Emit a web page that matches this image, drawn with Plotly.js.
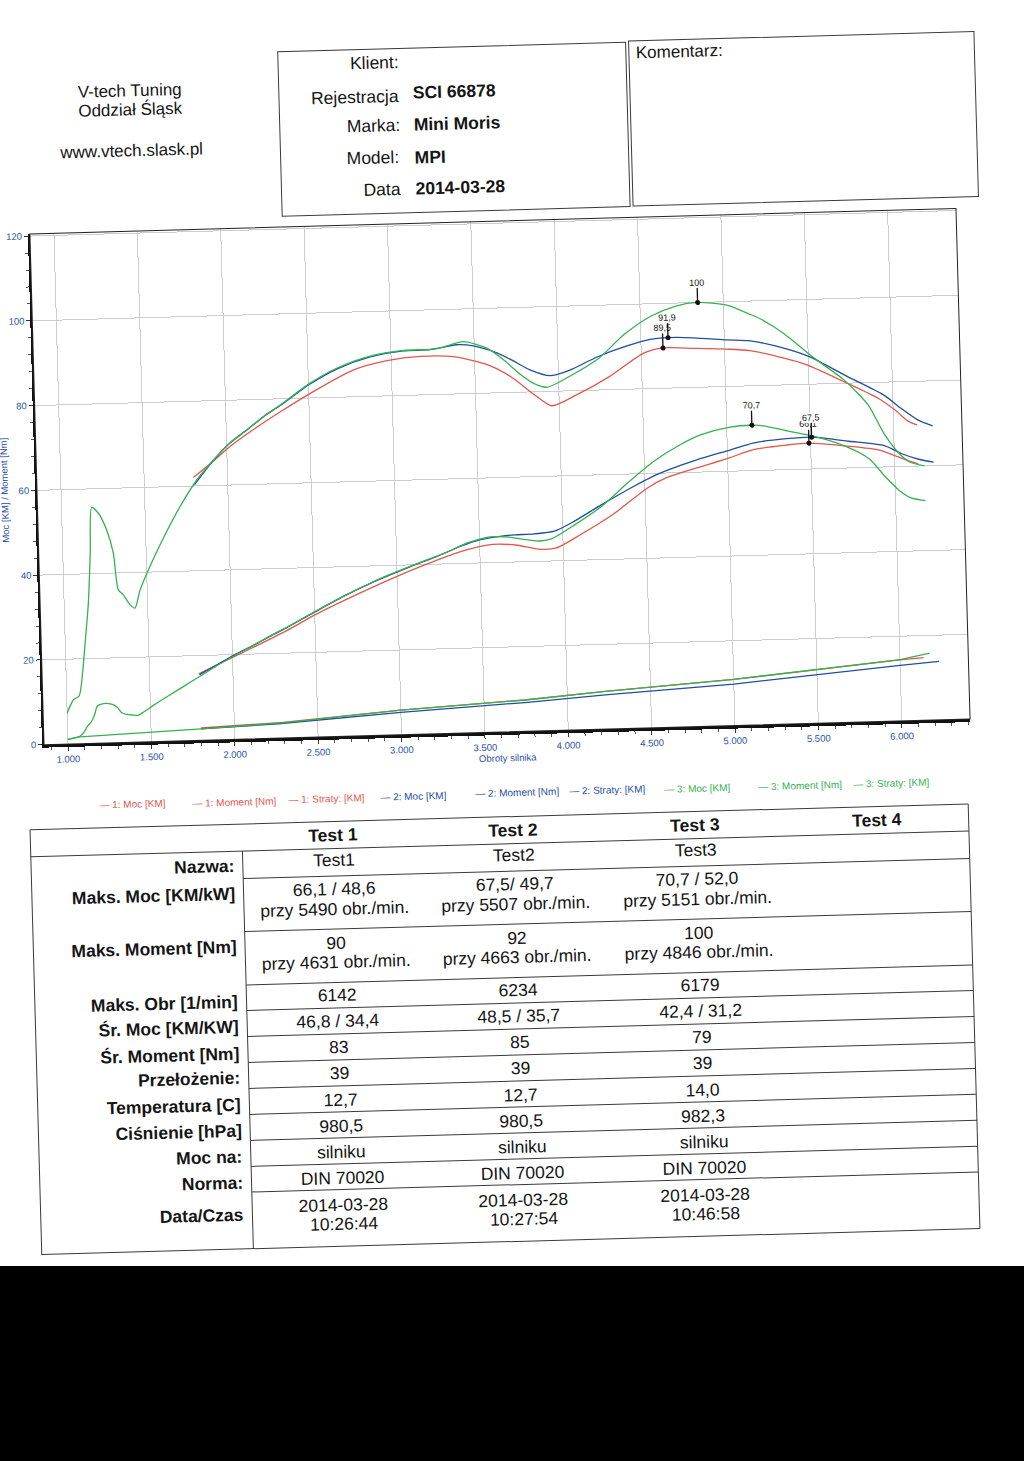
<!DOCTYPE html>
<html><head><meta charset="utf-8">
<script src="https://cdn.plot.ly/plotly-3.0.1.min.js"></script>
<style>
html,body{margin:0;padding:0;background:#fff;width:1024px;height:1461px;overflow:hidden;}
#chart{position:absolute;left:0;top:0;width:1024px;height:1461px;transform:rotate(-1.58deg);transform-origin:512px 640px;}
#scanbed{position:absolute;left:0;top:1266px;width:1024px;height:195px;background:#000;}
</style></head><body>
<div id="chart"></div><div id="scanbed"></div>
<script>
// ---------------- DATA ----------------
const xTickVals = [1000,1500,2000,2500,3000,3500,4000,4500,5000,5500,6000];
const xTickText = ['1.000','1.500','2.000','2.500','3.000','3.500','4.000','4.500','5.000','5.500','6.000'];
const yTickVals = [0,20,40,60,80,100,120];

const seriesNames = ['1: Moc [KM]','1: Moment [Nm]','1: Straty: [KM]',
                     '2: Moc [KM]','2: Moment [Nm]','2: Straty: [KM]',
                     '3: Moc [KM]','3: Moment [Nm]','3: Straty: [KM]'];

// Test 1 (red)
const t1Rpm    = [1795,1900,2020,2150,2330,2510,2770,2975,3175,3375,3575,3715,3850,3955,4105,4305,4515,4631,4815,5015,5150,5355,5490,5730,5910,6010,6090,6142];
const t1Torque = [62.0,65.2,69.1,72.6,77.0,81.1,86.3,88.3,89.1,88.8,86.7,83.7,79.4,76.6,79.0,83.1,88.4,89.5,89.2,88.8,88.3,86.3,84.6,80.0,76.3,73.4,70.6,69.7];
const t1Power  = [15.7,17.6,19.7,22.0,25.3,29.0,33.6,37.0,40.0,42.7,44.3,44.0,42.9,43.0,46.0,50.6,56.6,58.9,61.0,63.2,64.9,65.8,66.1,65.1,64.0,62.5,61.2,60.5];
const t1LossRpm = [1800,2290,3000,3745,4228,5000,6000,6142];
const t1Loss    = [2.9,3.7,5.8,7.4,8.9,10.9,14.4,14.8];

// Test 2 (blue)
const t2Rpm    = [1800,1920,2020,2125,2225,2330,2510,2675,2875,3075,3235,3395,3495,3635,3715,3830,3950,4070,4235,4415,4555,4663,4815,5015,5155,5355,5507,5730,5945,6045,6145,6234];
const t2Torque = [60.3,66.0,69.9,72.9,75.9,78.5,83.3,86.7,89.3,90.5,90.6,91.6,91.2,89.4,87.8,85.2,83.7,84.9,87.8,90.2,91.6,91.9,91.7,91.0,90.6,88.7,86.5,81.6,77.0,73.8,70.9,69.4];
const t2Power  = [15.5,18.0,20.1,22.0,24.0,26.0,29.7,33.0,36.5,39.5,41.7,44.2,45.4,46.2,46.4,46.5,47.0,49.2,52.9,56.7,59.4,61.0,62.9,65.0,66.5,67.3,67.5,66.3,65.0,63.0,61.6,60.8];
const t2LossRpm = [1800,2265,3000,3745,4228,5000,6000,6234];
const t2Loss    = [2.7,3.4,5.3,6.8,8.1,9.8,13.1,13.8];

// Test 3 (green)
const t3Rpm    = [1000,1040,1075,1100,1119,1145,1165,1181,1220,1267,1303,1327,1356,1395,1424,1457,1520,1605,1710,1815,1920,2020,2125,2225,2330,2510,2675,2875,3075,3235,3300,3435,3575,3675,3775,3850,3930,4070,4245,4400,4560,4715,4846,5020,5151,5220,5355,5530,5710,5850,5940,6020,6090,6179];
const t3Torque = [7.3,10.4,11.3,17.0,23.6,33.0,45.0,55.6,54.2,50.2,44.7,36.0,34.8,32.4,31.6,35.8,41.3,47.9,55.2,61.4,66.0,69.9,72.9,75.9,78.6,83.5,86.9,89.5,90.6,90.7,91.0,92.3,90.6,87.7,84.1,82.0,81.0,83.5,87.5,92.9,97.0,99.3,100.0,99.2,97.0,95.7,92.2,86.3,80.8,74.8,68.0,63.5,61.0,60.0];
const t3Power  = [1.1,1.4,1.8,2.8,4.0,5.2,6.8,8.7,9.3,9.1,8.3,7.0,6.6,6.4,6.3,7.0,8.6,10.6,13.0,15.4,17.8,19.9,22.0,24.1,26.1,29.8,33.0,36.6,39.6,41.8,42.7,44.9,46.1,45.9,45.2,44.8,45.2,48.3,52.8,58.0,62.9,66.5,68.8,70.4,70.7,70.5,69.2,67.6,65.1,62.0,57.8,54.5,52.6,51.8];
const t3LossRpm = [1000,1075,1800,2290,3000,3745,4228,5000,6000,6179];
const t3Loss    = [1.1,1.6,2.7,3.6,5.8,7.4,8.9,10.9,14.5,15.8];

// peak markers
const peakRpm   = [4846,4663,4631,5151,5490,5507];
const peakVal   = [100,91.9,89.5,70.7,66.1,67.5];
const peakLabel = ['100','91,9','89,5','70,7','66,1','67,5'];

// header info
const companyLines = ['V-tech Tuning','Oddział Śląsk','www.vtech.slask.pl'];
const clientLabels = ['Klient:','Rejestracja','Marka:','Model:','Data'];
const clientValues = ['','SCI 66878','Mini Moris','MPI','2014-03-28'];
const commentLabel = 'Komentarz:';

// results table
const testHeaders = ['Test 1','Test 2','Test 3','Test 4'];
const rowLabels = ['Nazwa:','Maks. Moc [KM/kW]','Maks. Moment [Nm]','Maks. Obr [1/min]','Śr. Moc [KM/KW]','Śr. Moment [Nm]','Przełożenie:','Temperatura [C]','Ciśnienie [hPa]','Moc na:','Norma:','Data/Czas'];
const test1Cells = [['Test1'],['66,1 / 48,6','przy 5490 obr./min.'],['90','przy 4631 obr./min.'],['6142'],['46,8 / 34,4'],['83'],['39'],['12,7'],['980,5'],['silniku'],['DIN 70020'],['2014-03-28','10:26:44']];
const test2Cells = [['Test2'],['67,5/ 49,7','przy 5507 obr./min.'],['92','przy 4663 obr./min.'],['6234'],['48,5 / 35,7'],['85'],['39'],['12,7'],['980,5'],['silniku'],['DIN 70020'],['2014-03-28','10:27:54']];
const test3Cells = [['Test3'],['70,7 / 52,0','przy 5151 obr./min.'],['100','przy 4846 obr./min.'],['6179'],['42,4 / 31,2'],['79'],['39'],['14,0'],['982,3'],['silniku'],['DIN 70020'],['2014-03-28','10:46:58']];

// ---------------- STYLE / GEOMETRY ----------------
const W=1024,H=1461;
const FONT='Arial, "Liberation Sans", sans-serif';
const RED='#e2574c', BLUE='#1f4f9f', GREEN='#36b150', AXBLUE='#2d52a6';
const TH=1.58*Math.PI/180, CX=512, CY=640, C=Math.cos(TH), S=Math.sin(TH);
function D(x,y){const dx=x-CX,dy=y-CY;return [CX+dx*C-dy*S, CY+dx*S+dy*C];}
function PD(x,y){return {x:x/W,y:1-y/H};}
function PO(x,y){const p=D(x,y);return PD(p[0],p[1]);}
function txt(pos,text,o){return Object.assign({xref:'paper',yref:'paper',x:pos.x,y:pos.y,text:text,showarrow:false,xanchor:'center',yanchor:'middle',font:{family:FONT,size:17.5,color:'#151515'}},o||{});}
function ln(p0,p1,w,col){return {type:'line',xref:'paper',yref:'paper',x0:p0.x,y0:p0.y,x1:p1.x,y1:p1.y,line:{color:col||'#3a3a3a',width:w||1}};}

const plotL=41.3, plotR=967.7, plotT=220.8, plotB=731.7;

// ---------------- TRACES ----------------
function tr(x,y,name,color,shape){return {type:'scatter',mode:'lines',x:x,y:y,name:name,line:{color:color,width:1.3,shape:shape||'spline',smoothing:0.7},hoverinfo:'skip'};}
const traces=[
  tr(t1Rpm,t1Power,seriesNames[0],RED), tr(t1Rpm,t1Torque,seriesNames[1],RED), tr(t1LossRpm,t1Loss,seriesNames[2],RED,'linear'),
  tr(t2Rpm,t2Power,seriesNames[3],BLUE), tr(t2Rpm,t2Torque,seriesNames[4],BLUE), tr(t2LossRpm,t2Loss,seriesNames[5],BLUE,'linear'),
  tr(t3Rpm,t3Power,seriesNames[6],GREEN), tr(t3Rpm,t3Torque,seriesNames[7],GREEN), tr(t3LossRpm,t3Loss,seriesNames[8],GREEN,'linear'),
  {type:'scatter',mode:'markers',x:peakRpm,y:peakVal,marker:{color:'#111',size:5},hoverinfo:'skip',name:'max'}
];

// ---------------- ANNOTATIONS ----------------
const ann=[];
// peak labels
peakRpm.forEach((r,i)=>{
  const top = peakLabel[i]==='67,5';
  ann.push({xref:'x',yref:'y',x:r,y:peakVal[i],text:peakLabel[i],showarrow:true,arrowhead:0,arrowwidth:1.3,arrowcolor:'#111',
    ax:0,ay:(peakLabel[i]==='66,1'?-19:-20),standoff:0,font:{family:FONT,size:9,color:'#111'},
    bgcolor: top?'rgba(255,255,255,1)':'rgba(0,0,0,0)',borderpad:0});
});
// company
const compPos=[[130,91],[130,110],[131,151]];
companyLines.forEach((t,i)=>ann.push(txt(PO(compPos[i][0],compPos[i][1]),t,{font:{family:FONT,size:17,color:'#151515'}})));
// client box
const clLabPos=[[401,62],[401,96],[402,125],[402,157],[403,189]];
const clValPos=[[411,62],[411,93],[412,125],[413,158],[414,189]];
clientLabels.forEach((t,i)=>{
  ann.push(txt(PO(clLabPos[i][0],clLabPos[i][1]),t,{xanchor:'right',font:{family:FONT,size:17.5,color:'#151515'}}));
  if(clientValues[i]) ann.push(txt(PO(clValPos[i][0],clValPos[i][1]),'<b>'+clientValues[i]+'</b>',{xanchor:'left',font:{family:FONT,size:17.5,color:'#151515'}}));
});
ann.push(txt(PO(634,53),commentLabel,{xanchor:'left',font:{family:FONT,size:17,color:'#151515'}}));
// legend
const legPos=[[97,805],[190,803],[286,800],[378,797],[473,794],[567,791],[662,789],[756,787],[851,784]];
const legCol=[RED,RED,RED,BLUE,BLUE,BLUE,GREEN,GREEN,GREEN];
seriesNames.forEach((n,i)=>ann.push(txt(PO(legPos[i][0],legPos[i][1]),'— '+n,{xanchor:'left',font:{family:FONT,size:10,color:legCol[i]}})));
// table headers
const colX=[327.5,508.2,690.2,872];
testHeaders.forEach((t,i)=>ann.push(txt(PD(colX[i],830),'<b>'+t+'</b>',{font:{family:FONT,size:17.5,color:'#151515'}})));
// row labels
const labelY=[858.4,886.4,939.4,994.4,1018.4,1045.3,1070.3,1097.3,1123.3,1149.3,1175.3,1207.3];
rowLabels.forEach((t,i)=>ann.push(txt(PD(230,labelY[i]),'<b>'+t+'</b>',{xanchor:'right'})));
// cells
const rowY=[[855],[884,904],[938,957],[990],[1016],[1042],[1068],[1095],[1121],[1147],[1173],[1200,1219]];
[test1Cells,test2Cells,test3Cells].forEach((cells,c)=>{
  cells.forEach((lines,r)=>lines.forEach((t,k)=>ann.push(txt(PD(colX[c],rowY[r][k]),t))));
});

// ---------------- SHAPES ----------------
const shp=[];
// header boxes (de-rotated frame)
shp.push({type:'rect',xref:'paper',yref:'paper',x0:294/W,x1:642/W,y0:1-45.6/H,y1:1-210/H,line:{color:'#3a3a3a',width:1}});
shp.push({type:'rect',xref:'paper',yref:'paper',x0:645/W,x1:990.5/W,y0:1-44.5/H,y1:1-209.5/H,line:{color:'#3a3a3a',width:1}});
// plot frame (top/right thin)
shp.push({type:'rect',xref:'paper',yref:'paper',x0:plotL/W,x1:plotR/W,y0:1-plotB/H,y1:1-plotT/H,line:{color:'#222',width:1}});
// table
const tL=25, tR=963.5, sep=236.7;
shp.push(ln(PD(tL,816.5),PD(tR,816.5)));
shp.push(ln(PD(tL,843.5),PD(tR,843.5)));
[871,924,977.5,1003,1029,1055,1081,1107,1133,1159,1184.6].forEach(y=>shp.push(ln(PD(sep,y),PD(tR,y))));
shp.push(ln(PD(tL,1241.3),PD(tR,1241.3)));
shp.push(ln(PD(tL,816.5),PD(tL,1241.3)));
shp.push(ln(PD(tR,816.5),PD(tR,1241.3)));
shp.push(ln(PD(sep,843.5),PD(sep,1241.3)));

// ---------------- LAYOUT ----------------
const layout={
  width:W,height:H,margin:{l:0,r:0,t:0,b:0},
  paper_bgcolor:'#ffffff',plot_bgcolor:'#ffffff',showlegend:false,
  font:{family:FONT},
  xaxis:{domain:[plotL/W,plotR/W],range:[856,6410],tickmode:'array',tickvals:xTickVals,ticktext:xTickText,
    ticks:'outside',ticklen:4,tickcolor:'#333',tickfont:{family:FONT,size:9.5,color:AXBLUE},
    showgrid:true,gridcolor:'#cdcdcd',gridwidth:1,zeroline:false,showline:true,linecolor:'#111',linewidth:3,
    minor:{tickmode:'linear',tick0:0,dtick:100,ticks:'outside',ticklen:3,tickcolor:'#555',showgrid:false},
    title:{text:'Obroty silnika',font:{family:FONT,size:9.5,color:AXBLUE},standoff:2}},
  yaxis:{domain:[1-plotB/H,1-plotT/H],range:[0,120.5],tickmode:'array',tickvals:yTickVals,
    ticks:'outside',ticklen:4,tickcolor:'#333',tickfont:{family:FONT,size:9.5,color:AXBLUE},
    showgrid:true,gridcolor:'#cdcdcd',gridwidth:1,zeroline:false,showline:true,linecolor:'#111',linewidth:2,
    minor:{tickmode:'linear',tick0:0,dtick:4,ticks:'outside',ticklen:3,tickcolor:'#555',showgrid:false},
    title:{text:'Moc [KM] / Moment [Nm]',font:{family:FONT,size:9.5,color:AXBLUE},standoff:3}},
  annotations:ann,shapes:shp
};
Plotly.newPlot('chart',traces,layout,{staticPlot:true,displayModeBar:false});
</script></body></html>
